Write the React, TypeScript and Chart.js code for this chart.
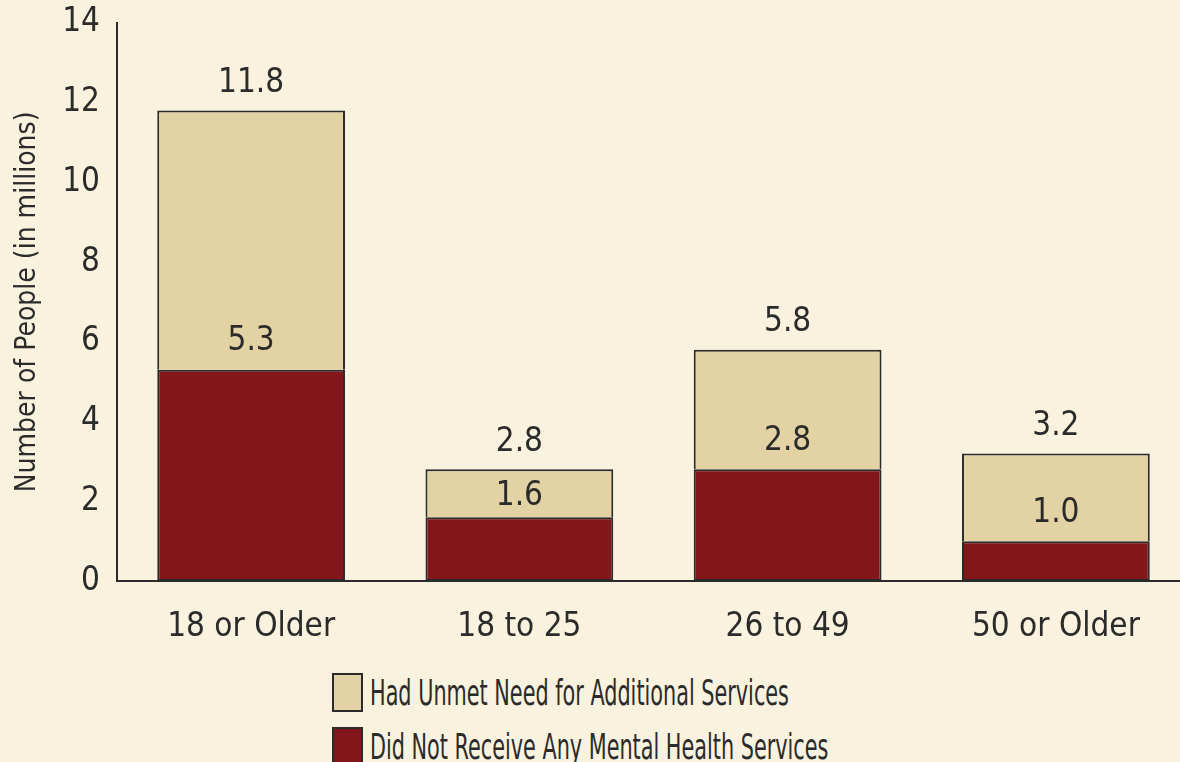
import React, { useEffect, useRef } from "react";
import { Chart, registerables } from "chart.js";

Chart.register(...registerables);

const categories = ["18 or Older", "18 to 25", "26 to 49", "50 or Older"];
const noServices = [5.3, 1.6, 2.8, 1.0];
const unmetNeed = [6.5, 1.2, 3.0, 2.2];
const totals = [11.8, 2.8, 5.8, 3.2];
const yTicks = [0, 2, 4, 6, 8, 10, 12, 14];
const legendLabels = [
  "Had Unmet Need for Additional Services",
  "Did Not Receive Any Mental Health Services",
];

const BG = "#f9f2de";
const TAN = "#e2d2a4";
const RED = "#82161a";
const INK = "#2b2b2b";
const FONT = "'DejaVu Sans Condensed', 'Liberation Sans', sans-serif";

const labelPlugin = {
  id: "valueLabels",
  afterDatasetsDraw(chart: any) {
    const ctx = chart.ctx;
    const bottomMeta = chart.getDatasetMeta(0);
    const topMeta = chart.getDatasetMeta(1);
    ctx.save();
    ctx.font = `33px ${FONT}`;
    ctx.fillStyle = INK;
    ctx.textAlign = "center";
    ctx.textBaseline = "middle";
    bottomMeta.data.forEach((bar: any, i: number) => {
      const topBar = topMeta.data[i];
      const segH = bar.y - topBar.y;
      const off = Math.min(28, segH / 2 - 3);
      ctx.fillText(noServices[i].toFixed(1), bar.x, bar.y - off);
      ctx.fillText(totals[i].toFixed(1), topBar.x, topBar.y - 27);
    });
    ctx.restore();
  },
};

export default function App() {
  const ref = useRef<HTMLCanvasElement | null>(null);
  useEffect(() => {
    document.body.style.margin = "0";
    document.body.style.background = BG;
    if (!ref.current) return;
    const chart = new Chart(ref.current, {
      type: "bar",
      data: {
        labels: categories,
        datasets: [
          {
            label: legendLabels[1],
            data: noServices,
            backgroundColor: RED,
            borderColor: INK,
            borderWidth: 2,
            borderSkipped: false,
            barPercentage: 0.7,
            categoryPercentage: 1,
          },
          {
            label: legendLabels[0],
            data: unmetNeed,
            backgroundColor: TAN,
            borderColor: INK,
            borderWidth: 2,
            borderSkipped: "bottom",
            barPercentage: 0.7,
            categoryPercentage: 1,
          },
        ],
      },
      options: {
        animation: false,
        responsive: false,
        layout: { padding: { top: 11, left: 0, right: 0, bottom: 0 } },
        plugins: { legend: { display: false }, tooltip: { enabled: false } },
        scales: {
          x: {
            stacked: true,
            grid: { display: false, drawTicks: false },
            border: { display: true, color: INK, width: 2 },
            ticks: { color: INK, font: { family: FONT, size: 33 }, padding: 27 },
            afterFit: (s: any) => {
              s.height = 70;
            },
          },
          y: {
            stacked: true,
            min: 0,
            max: 14,
            afterBuildTicks: (s: any) => {
              s.ticks = yTicks.map((v) => ({ value: v }));
            },
            grid: { display: false, drawTicks: false },
            border: { display: true, color: INK, width: 2 },
            ticks: { color: INK, font: { family: FONT, size: 33 }, padding: 17 },
            title: {
              display: true,
              text: "Number of People (in millions)",
              color: INK,
              font: { family: FONT, size: 28 },
              padding: { top: 11, bottom: 0 },
            },
            afterFit: (s: any) => {
              s.width = 117;
            },
          },
        },
      },
      plugins: [labelPlugin],
    });
    return () => chart.destroy();
  }, []);

  return (
    <div
      style={{
        position: "relative",
        width: 1180,
        height: 762,
        overflow: "hidden",
        background: BG,
        fontFamily: FONT,
      }}
    >
      <canvas ref={ref} width={1190} height={665} style={{ position: "absolute", left: 0, top: -14 }} />
      {legendLabels.map((lab, i) => (
        <div
          key={lab}
          style={{
            position: "absolute",
            left: 332,
            top: 673 + i * 54,
            display: "flex",
            alignItems: "center",
            whiteSpace: "nowrap",
          }}
        >
          <div
            style={{
              width: 27,
              height: 35,
              background: i === 0 ? TAN : RED,
              border: `2px solid ${INK}`,
              marginRight: 7,
              flex: "none",
            }}
          />
          <span
            style={{
              display: "inline-block",
              fontSize: 35,
              color: INK,
              lineHeight: "38px",
              transform: "scaleX(0.66)",
              transformOrigin: "left center",
            }}
          >
            {lab}
          </span>
        </div>
      ))}
    </div>
  );
}
